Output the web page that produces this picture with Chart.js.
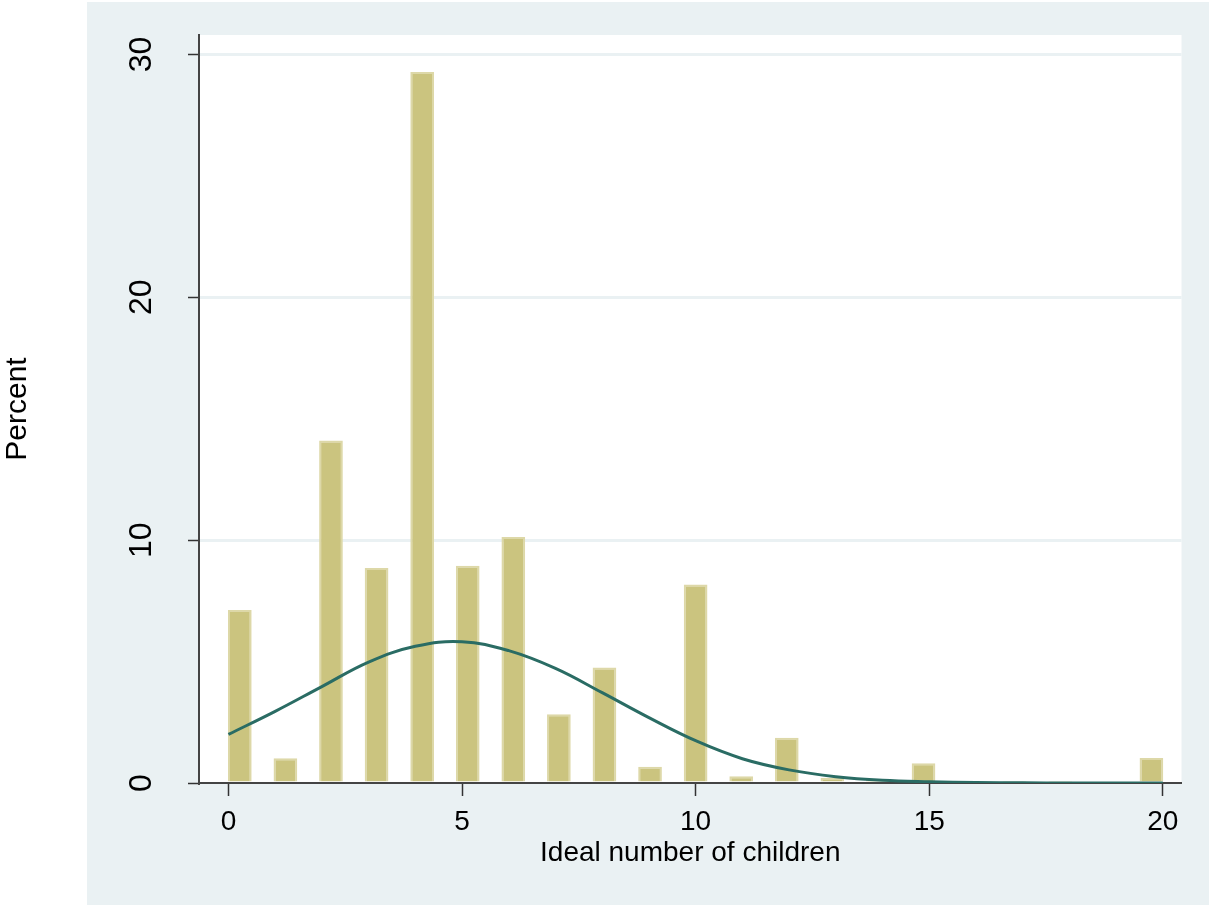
<!DOCTYPE html>
<html lang="en">

<head>
    <meta charset="UTF-8">
    <title>Ideal number of children</title>
    <script src="https://cdn.jsdelivr.net/npm/chart.js"></script>
    <style>
        body {
            margin: 0;
            background: #ffffff;
            overflow: hidden;
        }

        .wrap {
            width: 1209px;
            height: 905px;
        }
    </style>
</head>

<body>
    <div class="wrap">
        <canvas id="hist" width="1209" height="905"></canvas>
    </div>

    <script>
        // histogram: ideal number of children (percent of respondents)
        const children = [0, 1, 2, 3, 4, 5, 6, 7, 8, 9, 10, 11, 12, 13, 14, 15, 16, 17, 18, 19, 20];
        const percent = [7.12, 1.02, 14.1, 8.85, 29.28, 8.95, 10.13, 2.83, 4.76, 0.67, 8.17, 0.28, 1.86, 0.22, 0.15, 0.81, 0.05, 0.04, 0.04, 0, 1.03];

        // normal density overlay
        const curveX = [0, 1, 2, 3, 4, 5, 6, 7, 8, 9, 10, 11, 12, 13, 14, 15, 16, 17, 18, 19, 20];
        const curveY = [2.0, 2.95, 3.97, 4.98, 5.63, 5.82, 5.45, 4.72, 3.72, 2.69, 1.74, 1.0, 0.54, 0.26, 0.11, 0.05, 0.02, 0.01, 0, 0, 0];

        const xTicks = [0, 5, 10, 15, 20];
        const yTicks = [0, 10, 20, 30];

        // 41 equal bins between 0 and 20
        const nBins = 41;
        const binWidth = 20 / nBins;
        const binCenter = v => (Math.min(Math.floor(v / binWidth), nBins - 1) + 0.5) * binWidth;

        const barData = children.map((c, i) => ({ x: binCenter(c), y: percent[i] }));
        const lineData = curveX.map((c, i) => ({ x: c, y: curveY[i] }));

        const panelBg = {
            id: 'panelBg',
            beforeDraw(chart) {
                const { ctx, chartArea, width, height } = chart;
                ctx.save();
                ctx.fillStyle = '#eaf1f3';
                ctx.fillRect(87, 2, width - 87, height - 2);
                ctx.fillStyle = '#ffffff';
                ctx.fillRect(chartArea.left, chartArea.top, chartArea.right - chartArea.left, chartArea.bottom - chartArea.top);
                ctx.restore();
            }
        };

        const ctx = document.getElementById('hist').getContext('2d');
        new Chart(ctx, {
            type: 'bar',
            data: {
                datasets: [{
                    type: 'line',
                    data: lineData,
                    borderColor: '#2a6c64',
                    borderWidth: 3,
                    pointRadius: 0,
                    tension: 0.4,
                    order: 0
                }, {
                    type: 'bar',
                    data: barData,
                    backgroundColor: '#cbc47f',
                    borderColor: '#ddd8a8',
                    borderWidth: 2,
                    barPercentage: 0.52,
                    categoryPercentage: 1,
                    order: 1
                }]
            },
            options: {
                responsive: false,
                animation: false,
                layout: {
                    padding: { left: 0, top: 35, right: 27.5, bottom: 0 }
                },
                plugins: {
                    legend: { display: false },
                    tooltip: { enabled: false }
                },
                scales: {
                    x: {
                        type: 'linear',
                        min: -0.63,
                        max: 20.4,
                        offset: false,
                        afterBuildTicks: scale => { scale.ticks = xTicks.map(v => ({ value: v })); },
                        afterFit: scale => { scale.height = 122; },
                        grid: {
                            offset: false,
                            drawOnChartArea: false,
                            tickLength: 13,
                            tickColor: '#333333',
                            tickWidth: 1.5
                        },
                        border: { color: '#444444', width: 2 },
                        ticks: {
                            padding: 9,
                            color: '#000000',
                            font: { family: 'Liberation Sans', size: 28 }
                        },
                        title: {
                            display: true,
                            text: 'Ideal number of children',
                            color: '#000000',
                            padding: { top: 0, bottom: 35 },
                            font: { family: 'Liberation Sans', size: 28 }
                        }
                    },
                    y: {
                        min: 0,
                        max: 30.8,
                        afterBuildTicks: scale => { scale.ticks = yTicks.map(v => ({ value: v })); },
                        afterFit: scale => {
                            scale.width = 199;
                            scale.paddingTop = 0;
                            scale.paddingBottom = 0;
                        },
                        grid: {
                            color: c => c.tick && c.tick.value === 0 ? 'rgba(0,0,0,0)' : '#eaf1f3',
                            lineWidth: 3,
                            tickLength: 11,
                            tickColor: '#333333',
                            tickWidth: 1.5
                        },
                        border: { color: '#444444', width: 2 },
                        ticks: {
                            minRotation: 90,
                            maxRotation: 90,
                            crossAlign: 'center',
                            padding: 28,
                            color: '#000000',
                            font: { family: 'Liberation Sans', size: 32 }
                        },
                        title: {
                            display: true,
                            text: 'Percent',
                            color: '#000000',
                            padding: { top: 0, bottom: 0 },
                            font: { family: 'Liberation Sans', size: 30 }
                        }
                    }
                }
            },
            plugins: [panelBg]
        });
    </script>
</body>

</html>
